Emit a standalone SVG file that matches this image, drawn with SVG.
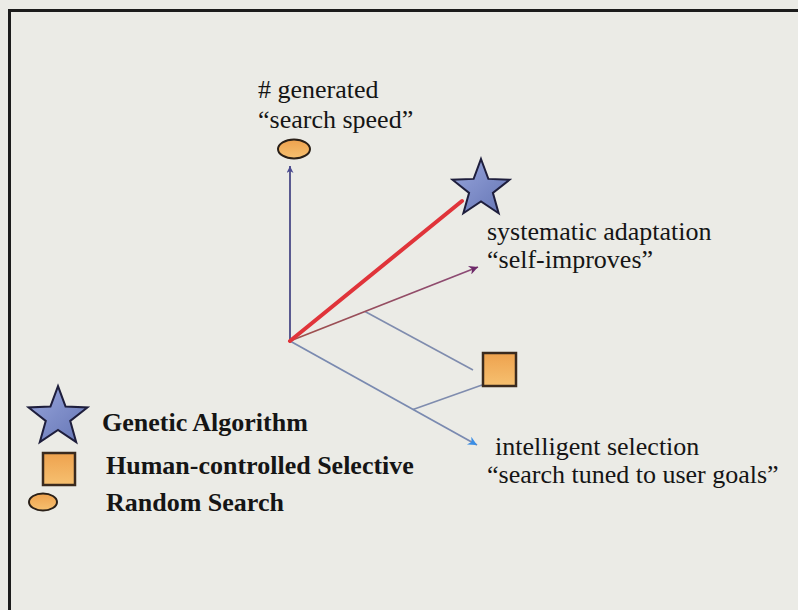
<svg xmlns="http://www.w3.org/2000/svg" width="798" height="610" viewBox="0 0 798 610">
  <style>
    .lbl { font-size: 26px; fill: #151515; }
    .leg { font-size: 26px; font-weight: bold; fill: #151515; }
    .star { fill: url(#starFill); stroke: #1e1e3c; stroke-width: 2; stroke-linejoin: miter; }
    .box { fill: url(#boxFill); stroke: #3a2a1e; stroke-width: 2.5; }
    .oval { fill: url(#boxFill); stroke: #2a2018; stroke-width: 2; }
    .proj { stroke: #7f8cae; stroke-width: 1.6; fill: none; }
  </style>
  <defs>
    <linearGradient id="starFill" x1="0" y1="0" x2="1" y2="1">
      <stop offset="0" stop-color="#98a6dc"/>
      <stop offset="1" stop-color="#6474b4"/>
    </linearGradient>
    <linearGradient id="boxFill" x1="0" y1="0" x2="0" y2="1">
      <stop offset="0" stop-color="#eea24e"/>
      <stop offset="1" stop-color="#f6c070"/>
    </linearGradient>
    <linearGradient id="selfAxis" gradientUnits="userSpaceOnUse" x1="290" y1="341" x2="478" y2="267">
      <stop offset="0" stop-color="#a0504a"/>
      <stop offset="1" stop-color="#8a4a78"/>
    </linearGradient>
    <path id="starShape" d="M0,-30 L7.35,-10.11 L28.53,-9.27 L11.89,3.86 L17.63,24.27 L0,12.5 L-17.63,24.27 L-11.89,3.86 L-28.53,-9.27 L-7.35,-10.11 Z"/>
    <marker id="headUp" viewBox="0 0 10 10" refX="10" refY="5" markerWidth="12" markerHeight="7" markerUnits="userSpaceOnUse" orient="auto">
      <path d="M0,0 L10,5 L0,10 L3,5 Z" fill="#4a4a90"/>
    </marker>
    <marker id="headSelf" viewBox="0 0 10 10" refX="10" refY="5" markerWidth="14" markerHeight="9" markerUnits="userSpaceOnUse" orient="auto">
      <path d="M0,0 L10,5 L0,10 L3,5 Z" fill="#6e2a6a"/>
    </marker>
    <marker id="headGoal" viewBox="0 0 10 10" refX="10" refY="5" markerWidth="16" markerHeight="9" markerUnits="userSpaceOnUse" orient="auto">
      <path d="M0,0 L10,5 L0,10 L3,5 Z" fill="#3a8ee6"/>
    </marker>
  </defs>

  <!-- page and frame -->
  <rect x="0" y="0" width="798" height="610" fill="#ebebe6"/>
  <path d="M9.5,610 L9.5,10.5 L798,10.5" fill="none" stroke="#1c1c1c" stroke-width="3"/>

  <!-- axes and projection lines -->
  <g id="connectors">
    <line class="proj" x1="365" y1="311.5" x2="473" y2="370"/>
    <line class="proj" x1="413" y1="409.4" x2="482" y2="385"/>
    <line x1="290" y1="341" x2="290" y2="166" stroke="#4a4a86" stroke-width="1.8" marker-end="url(#headUp)"/>
    <line x1="290" y1="341" x2="478" y2="267" stroke="url(#selfAxis)" stroke-width="1.8" marker-end="url(#headSelf)"/>
    <line x1="290" y1="341" x2="477" y2="445" stroke="#7a8ab0" stroke-width="1.8" marker-end="url(#headGoal)"/>
    <line x1="290" y1="341" x2="462" y2="201" stroke="#e0343a" stroke-width="4" stroke-linecap="round"/>
  </g>

  <!-- axis labels -->
  <g id="axis-speed" font-family="Liberation Serif, Times New Roman, serif">
    <text class="lbl" x="258" y="98"># generated</text>
    <text class="lbl" x="258" y="128">“search speed”</text>
  </g>
  <g id="axis-adaptation" font-family="Liberation Serif, Times New Roman, serif">
    <text class="lbl" x="487" y="240">systematic adaptation</text>
    <text class="lbl" x="487" y="268">“self-improves”</text>
  </g>
  <g id="axis-selection" font-family="Liberation Serif, Times New Roman, serif">
    <text class="lbl" x="495" y="455">intelligent selection</text>
    <text class="lbl" x="487" y="483">“search tuned to user goals”</text>
  </g>

  <!-- plotted points -->
  <g id="random-search-point">
    <ellipse class="oval" cx="294" cy="149" rx="16" ry="9.5"/>
  </g>
  <g id="genetic-algorithm-point">
    <use href="#starShape" class="star" transform="translate(481,189)"/>
  </g>
  <g id="human-selective-point">
    <rect class="box" x="483" y="353" width="33" height="33"/>
  </g>

  <!-- legend -->
  <g id="legend-genetic" font-family="Liberation Serif, Times New Roman, serif">
    <use href="#starShape" class="star" transform="translate(58,417) scale(1.03)"/>
    <text class="leg" x="102" y="431">Genetic Algorithm</text>
  </g>
  <g id="legend-human" font-family="Liberation Serif, Times New Roman, serif">
    <rect class="box" x="43" y="453" width="32" height="32"/>
    <text class="leg" x="106" y="474">Human-controlled Selective</text>
  </g>
  <g id="legend-random" font-family="Liberation Serif, Times New Roman, serif">
    <ellipse class="oval" cx="43" cy="502" rx="14" ry="8.5"/>
    <text class="leg" x="106" y="511">Random Search</text>
  </g>
</svg>
